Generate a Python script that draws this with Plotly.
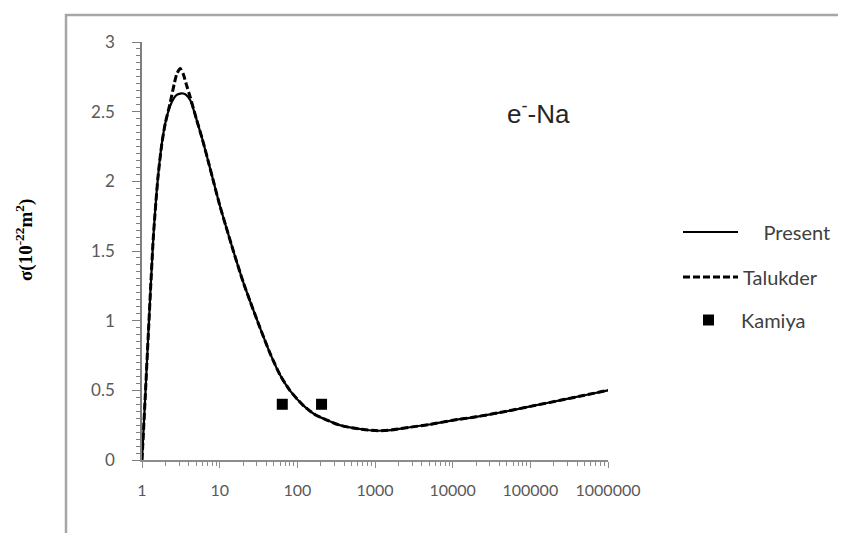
import plotly.graph_objects as go

# ---- data ----
energy = [1, 1.1, 1.2, 1.4, 1.6, 1.8, 2.0, 2.3, 2.6, 2.8, 3.1, 3.4, 3.7, 4.2, 5, 6, 7, 8.5,
          10, 12, 15, 20, 25, 33, 45, 60, 80, 120, 170, 240, 350, 520, 750, 1100, 1600,
          2800, 5000, 10000, 20000, 50000, 100000, 250000, 500000, 1000000]
present = [0, 0.45, 0.88, 1.6, 2.02, 2.27, 2.42, 2.54, 2.60, 2.62, 2.63, 2.63, 2.62, 2.58, 2.45,
           2.30, 2.16, 1.98, 1.83, 1.68, 1.50, 1.28, 1.13, 0.95, 0.76, 0.61, 0.50, 0.39, 0.325,
           0.287, 0.25, 0.23, 0.217, 0.21, 0.215, 0.235, 0.255, 0.285, 0.31, 0.35, 0.385, 0.43,
           0.465, 0.50]
talukder = [0, 0.45, 0.88, 1.6, 2.02, 2.27, 2.42, 2.56, 2.70, 2.77, 2.81, 2.77, 2.70, 2.60, 2.45,
            2.30, 2.16, 1.98, 1.83, 1.68, 1.50, 1.28, 1.13, 0.95, 0.76, 0.61, 0.50, 0.39, 0.325,
            0.287, 0.25, 0.23, 0.217, 0.21, 0.215, 0.235, 0.255, 0.285, 0.31, 0.35, 0.385, 0.43,
            0.465, 0.50]
kamiya_x = [64, 205]
kamiya_y = [0.40, 0.40]

x_tickvals = [1, 10, 100, 1000, 10000, 100000, 1000000]
x_ticktext = ["1", "10", "100", "1000", "10000", "100000", "1000000"]
y_tickvals = [0, 0.5, 1, 1.5, 2, 2.5, 3]
y_ticktext = ["0", "0.5", "1", "1.5", "2", "2.5", "3"]

FONT = "Lato"
GREY = "#595959"
NB = "\u00a0"

fig = go.Figure()
fig.add_trace(go.Scatter(x=energy, y=talukder, mode="lines", name="Talukder",
                         line=dict(color="black", width=3, dash="7px,3px", shape="spline", smoothing=0.6),
                         legend="legend2"))
fig.add_trace(go.Scatter(x=energy, y=present, mode="lines", name=NB * 4 + "Present",
                         line=dict(color="black", width=2.2, shape="spline", smoothing=0.6),
                         legend="legend"))
fig.add_trace(go.Scatter(x=kamiya_x, y=kamiya_y, mode="markers", name="Kamiya",
                         marker=dict(symbol="square", size=11, color="black"),
                         legend="legend3"))

legend_common = dict(xanchor="left", yanchor="middle", bgcolor="rgba(0,0,0,0)",
                     font=dict(family=FONT, size=20, color="#404040"))

# page body has an 8px margin: margins are compensated so the plot area lands where the reference has it
fig.update_layout(
    width=846, height=533,
    margin=dict(l=134, r=246, t=34, b=81),
    paper_bgcolor="white", plot_bgcolor="white",
    showlegend=True,
    legend=dict(x=(678 - 142) / 466, y=(460 - 232) / 418, itemwidth=55, **legend_common),
    legend2=dict(x=(678 - 142) / 466, y=(460 - 277) / 418, itemwidth=55, **legend_common),
    legend3=dict(x=(676 - 142) / 466, y=(460 - 320) / 418, itemwidth=55, **legend_common),
    xaxis=dict(type="log", range=[0, 6], tickvals=x_tickvals, ticktext=x_ticktext,
               showgrid=False, zeroline=False, showline=True, linecolor="#8c8c8c", linewidth=1.5,
               ticks="outside", ticklen=6, tickcolor="#8c8c8c",
               minor=dict(ticks="outside", ticklen=4, tickcolor="#8c8c8c",
                          tickvals=[m * 10 ** d for d in range(6) for m in range(2, 10)]),
               tickfont=dict(family=FONT, size=16, color=GREY), ticklabelstandoff=9),
    yaxis=dict(range=[0, 3], tickvals=y_tickvals, ticktext=y_ticktext,
               showgrid=False, zeroline=False, showline=True, linecolor="#7f7f7f", linewidth=1.5,
               ticks="outside", ticklen=8, tickcolor="#7f7f7f",
               minor=dict(ticks="outside", ticklen=4, dtick=0.05, tickcolor="#7f7f7f"),
               tickfont=dict(family=FONT, size=17, color=GREY), ticklabelstandoff=14),
    shapes=[dict(type="rect", xref="paper", yref="paper",
                 x0=(66 - 142) / 466, x1=(870 - 142) / 466,
                 y0=(460 - 560) / 418, y1=(460 - 15) / 418,
                 line=dict(color="#a6a6a6", width=2.5), fillcolor="rgba(0,0,0,0)", layer="below")],
    annotations=[
        dict(text="e<sup>-</sup>-Na", xref="paper", yref="paper", xanchor="center", yanchor="middle",
             x=(538 - 142) / 466, y=(460 - 112) / 418, showarrow=False,
             font=dict(family="Liberation Sans", size=26, color="#262626")),
        dict(text="<b>σ(10<sup>-22</sup>m<sup>2</sup>)</b>", xref="paper", yref="paper",
             xanchor="center", yanchor="middle",
             x=(24 - 142) / 466, y=(460 - 240) / 418, showarrow=False, textangle=-90,
             font=dict(family="Liberation Serif", size=19, color="black")),
    ],
)

fig.write_html("out.html")
